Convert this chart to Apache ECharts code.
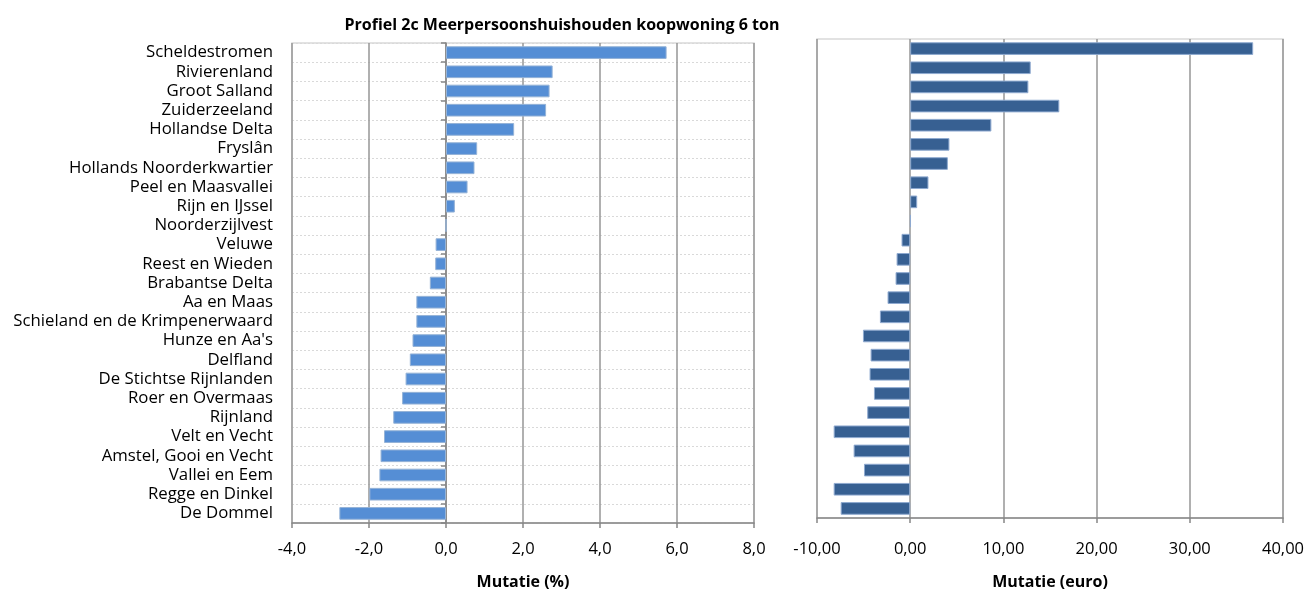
<!DOCTYPE html>
<html><head><meta charset="utf-8">
<script src="https://cdn.jsdelivr.net/npm/echarts@6/dist/echarts.min.js"></script>
<style>html,body{margin:0;padding:0;background:#fff}#c{width:1309px;height:591px}</style>
</head><body><div id="c"></div>
<script>
const categories = ["Scheldestromen","Rivierenland","Groot Salland","Zuiderzeeland","Hollandse Delta","Fryslân","Hollands Noorderkwartier","Peel en Maasvallei","Rijn en IJssel","Noorderzijlvest","Veluwe","Reest en Wieden","Brabantse Delta","Aa en Maas","Schieland en de Krimpenerwaard","Hunze en Aa's","Delfland","De Stichtse Rijnlanden","Roer en Overmaas","Rijnland","Velt en Vecht","Amstel, Gooi en Vecht","Vallei en Eem","Regge en Dinkel","De Dommel"];
const mutatiePct = [5.73,2.77,2.69,2.60,1.77,0.81,0.74,0.56,0.23,0,-0.27,-0.28,-0.42,-0.77,-0.77,-0.87,-0.94,-1.05,-1.14,-1.37,-1.61,-1.70,-1.73,-1.99,-2.77];
const mutatieEuro = [36.8,12.93,12.68,16.0,8.71,4.21,4.04,1.96,0.75,0.05,-0.93,-1.46,-1.57,-2.43,-3.25,-5.07,-4.25,-4.36,-3.89,-4.61,-8.21,-6.07,-4.96,-8.21,-7.46];
const titleText = "Profiel 2c Meerpersoonshuishouden koopwoning 6 ton";
const axisNameLeft = "Mutatie (%)";
const axisNameRight = "Mutatie (euro)";

const FONT = "'Open Sans',sans-serif";
const chart = echarts.init(document.getElementById('c'), null, {renderer:'canvas'});
const xCommon = {
  type:'value',
  axisLine:{show:true,onZero:false,lineStyle:{color:'#868686',width:1.5}},
  axisTick:{show:true,length:5,lineStyle:{color:'#868686',width:1.5}},
  splitLine:{show:true,lineStyle:{color:'#969696',width:1.5}},
  nameLocation:'middle',
  nameTextStyle:{fontFamily:FONT,fontSize:16,fontWeight:'bold',color:'#000'}
};
chart.setOption({
  animation:false,
  title:{text:titleText,left:557,top:12,textAlign:'center',
    textStyle:{fontFamily:FONT,fontSize:16,fontWeight:'bold',color:'#000'}},
  grid:[
    {left:292,right:555,top:43,height:480,show:true,borderColor:'#d9d9d9',borderWidth:1.5,outerBoundsMode:'none',containLabel:false},
    {left:817,right:26,top:39,height:479,show:true,borderColor:'#d9d9d9',borderWidth:1.5,outerBoundsMode:'none',containLabel:false}
  ],
  xAxis:[
    Object.assign({}, xCommon, {gridIndex:0,min:-4,max:8,interval:2,name:axisNameLeft,nameGap:51,
      axisLabel:{margin:18,fontFamily:FONT,fontSize:16.5,color:'#000',formatter:v=>v.toFixed(1).replace('.',',')}}),
    Object.assign({}, xCommon, {gridIndex:1,min:-10,max:40,interval:10,name:axisNameRight,nameGap:56,
      axisLabel:{margin:23,fontFamily:FONT,fontSize:16.5,color:'#000',formatter:v=>v.toFixed(2).replace('.',',')}})
  ],
  yAxis:[
    {type:'category',gridIndex:0,data:categories,inverse:true,
      axisLine:{show:false,onZero:false},axisTick:{show:false,interval:0},
      axisLabel:{interval:0,margin:19,fontFamily:FONT,fontSize:16.8,color:'#000'},
      splitLine:{show:true,interval:0,lineStyle:{color:'#d9d9d9',type:[2,2],width:1}}},
    {type:'category',gridIndex:0,data:categories,inverse:true,position:'left',
      axisLine:{show:true,onZero:true,lineStyle:{color:'#868686',width:1.5}},
      axisTick:{show:true,interval:0,length:5,lineStyle:{color:'#868686',width:1.5}},
      axisLabel:{show:false,interval:0},splitLine:{show:false}},
    {type:'category',gridIndex:1,data:categories,inverse:true,
      axisLine:{show:false},axisTick:{show:false},axisLabel:{show:false,interval:0},splitLine:{show:false}}
  ],
  series:[
    {type:'bar',xAxisIndex:0,yAxisIndex:0,data:mutatiePct,barWidth:'66%',
      itemStyle:{color:'#558ed5',borderColor:'#95b3d7',borderWidth:1}},
    {type:'bar',xAxisIndex:1,yAxisIndex:2,data:mutatieEuro,barWidth:'66%',
      itemStyle:{color:'#376092',borderColor:'#8faad0',borderWidth:1}}
  ]
});
</script></body></html>
